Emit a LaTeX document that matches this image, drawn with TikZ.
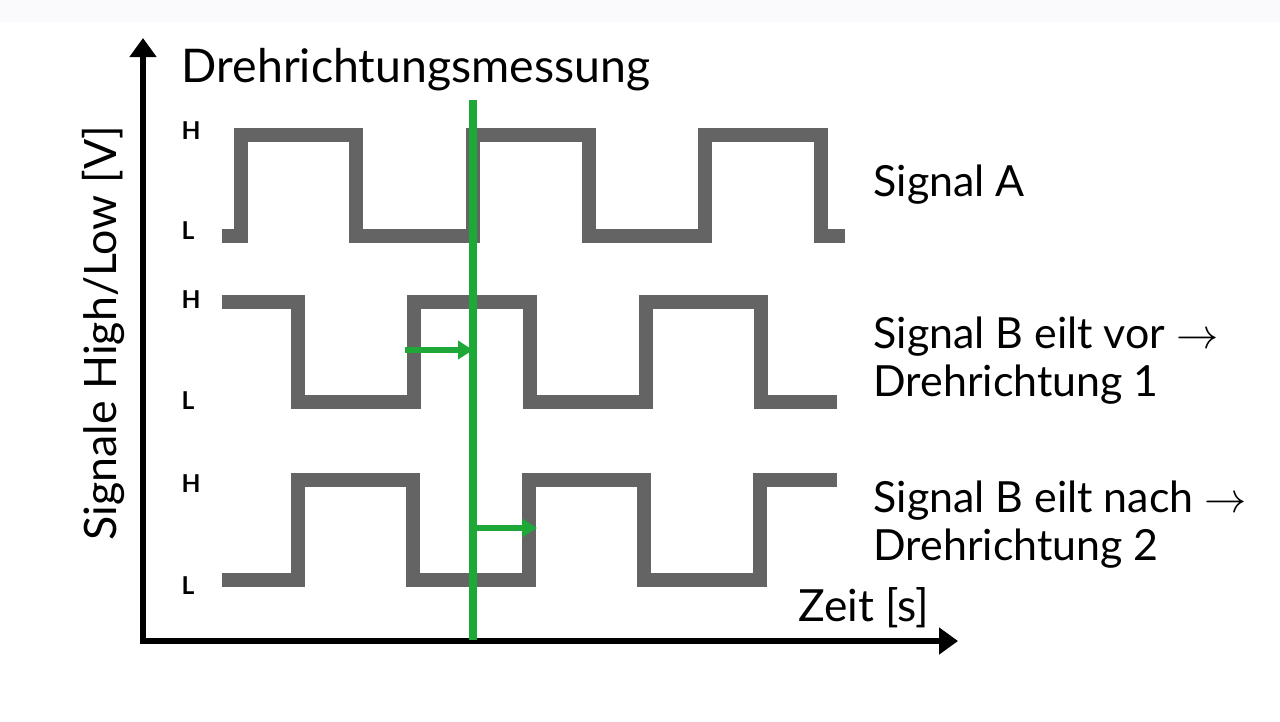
\documentclass[tikz,border=0pt]{standalone}
\usepackage{fontspec}
\setmainfont{Lato}
\usetikzlibrary{arrows.meta, positioning}
\definecolor{sigGray}{RGB}{100,100,100}
\definecolor{measGreen}{RGB}{30,168,55}
\definecolor{stripGray}{RGB}{250,250,252}
\tikzset{
    >=Stealth, % arrow heads
    axisline/.style={{Triangle[length=0.19cm,width=0.26cm]}-{Triangle[length=0.19cm,width=0.26cm]}, line width=0.06cm, draw=black},
    signal/.style={draw=sigGray, line width=0.14cm}, % square waves
    measure/.style={draw=measGreen, line width=0.08cm},
    lead/.style={-{Triangle[length=0.15cm,width=0.18cm]}, draw=measGreen, line width=0.06cm},
    level/.style={font=\fontsize{7}{8}\selectfont\bfseries, anchor=west, inner sep=0pt},
    caption/.style={font=\fontsize{12.2}{13.7}\selectfont, align=left, anchor=west, inner sep=0pt}
}

\begin{document}
\begin{tikzpicture}[x=0.01cm, y=-0.01cm]
        \useasboundingbox (0,0) rectangle (1280,721);
        \fill[stripGray] (0,0) rectangle (1280,22);

        % axes
        \coordinate (origin) at (143,641);
        \coordinate (ytip) at (143,38);
        \coordinate (xtip) at (958,641);
        \draw[axisline] (ytip) -- (origin) -- (xtip);

        \node[caption, anchor=center, font=\fontsize{13.2}{15}\selectfont] (title) at (416,70) {Drehrichtungsmessung};
        \node[caption, rotate=90, anchor=center, font=\fontsize{12.7}{15}\selectfont] (ylabel) at (103,333) {Signale High/Low [V]};
        \node[caption, anchor=center, font=\fontsize{12.6}{15}\selectfont] (xlabel) at (864,608) {Zeit [s]};

        % signal A
        \draw[signal] (222,236) -| (241,135) -| (356,236) -| (473,135) -| (589,236)
            -| (705,135) -| (821,236) -- (845,236);
        \node[level] (hA) at (181,131) {H};
        \node[level] (lA) at (181,231) {L};
        \node[caption] (txtA) at (873,185) {Signal A};

        % signal B, leading
        \draw[signal] (222,302) -| (298,402) -| (414,302) -| (530,402) -| (646,302)
            -| (761,402) -- (837,402);
        \node[level] (hB) at (181,300) {H};
        \node[level] (lB) at (181,401) {L};
        \node[caption] (txtB) at (873,361) {Signal B eilt vor $\rightarrow$\\Drehrichtung 1};

        % signal B, lagging
        \draw[signal] (222,580) -| (298,480) -| (413,580) -| (529,480) -| (644,580)
            -| (760,480) -- (837,480);
        \node[level] (hC) at (181,484) {H};
        \node[level] (lC) at (181,586) {L};
        \node[caption] (txtC) at (873,525) {Signal B eilt nach $\rightarrow$\\Drehrichtung 2};

        % measuring instant
        \coordinate (mTop) at (473,100);
        \coordinate (mBot) at (473,640);
        \draw[measure] (mTop) -- (mBot);

        \coordinate (leadB) at (405,350);
        \coordinate (leadBend) at (473,350);
        \draw[lead] (leadB) -- (leadBend);

        \coordinate (lagC) at (473,528);
        \coordinate (lagCend) at (537,528);
        \draw[lead] (lagC) -- (lagCend);
    \end{tikzpicture}
\end{document}
